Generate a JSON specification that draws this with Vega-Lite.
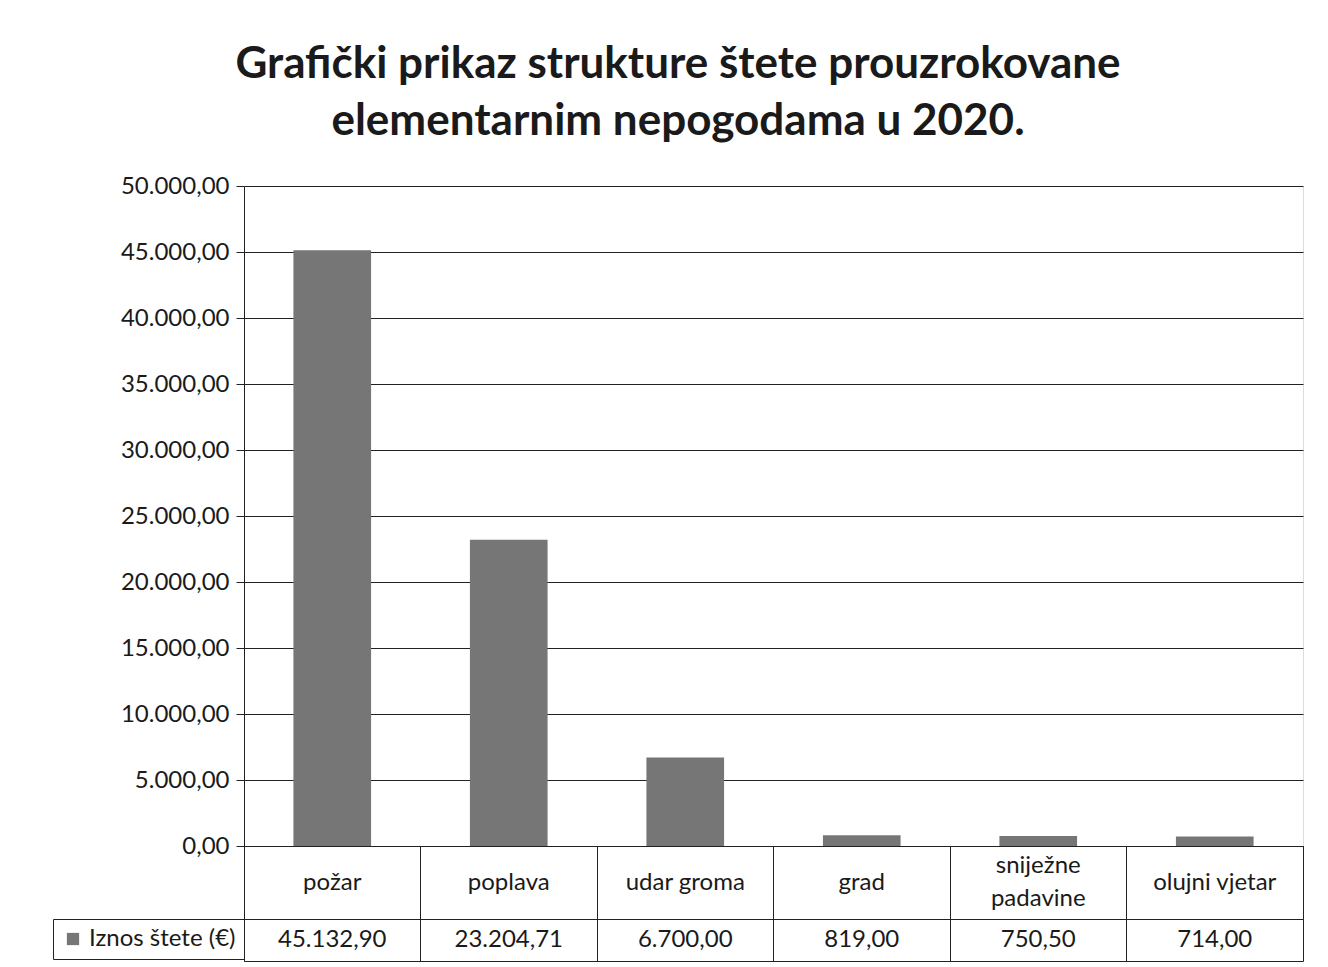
{
  "$schema": "https://vega.github.io/schema/vega-lite/v6.json",
  "background": "white",
  "padding": {"left": 52, "top": 42, "right": 5, "bottom": 5},
  "title": {
    "text": ["Grafički prikaz strukture štete prouzrokovane", "elementarnim nepogodama u 2020."],
    "font": "Lato",
    "fontSize": 44,
    "fontWeight": "bold",
    "color": "#1a1a1a",
    "lineHeight": 57,
    "anchor": "middle",
    "offset": 30
  },
  "data": {
    "values": [
      {"kategorija": "požar", "naziv": "požar", "iznos": 45132.90},
      {"kategorija": "poplava", "naziv": "poplava", "iznos": 23204.71},
      {"kategorija": "udar groma", "naziv": "udar groma", "iznos": 6700.00},
      {"kategorija": "grad", "naziv": "grad", "iznos": 819.00},
      {"kategorija": "sniježne padavine", "naziv": ["sniježne", "padavine"], "iznos": 750.50},
      {"kategorija": "olujni vjetar", "naziv": "olujni vjetar", "iznos": 714.00}
    ]
  },
  "spacing": 0,
  "bounds": "flush",
  "resolve": {"scale": {"x": "shared"}},
  "vconcat": [
    {
      "width": 1059,
      "height": 660,
      "mark": {"type": "bar", "width": {"band": 0.44}, "fill": "#767676"},
      "encoding": {
        "x": {
          "field": "kategorija",
          "type": "nominal",
          "sort": null,
          "scale": {"padding": 0},
          "axis": {"labels": false, "ticks": false, "title": null, "domain": true, "domainColor": "#222", "grid": false}
        },
        "y": {
          "field": "iznos",
          "type": "quantitative",
          "scale": {"domain": [0, 50000], "nice": false},
          "axis": {
            "values": [0, 5000, 10000, 15000, 20000, 25000, 30000, 35000, 40000, 45000, 50000],
            "format": ",.2f",
            "title": null,
            "grid": true,
            "gridColor": "#222",
            "gridOpacity": 1,
            "domainColor": "#222",
            "tickColor": "#222",
            "tickSize": 8,
            "labelPadding": 7,
            "labelFont": "Lato",
            "labelFontSize": 24,
            "labelColor": "#1a1a1a"
          }
        },
        "color": {
          "datum": "Iznos štete (€)",
          "type": "nominal",
          "scale": {"range": ["#767676"]},
          "legend": {
            "title": null,
            "orient": "none",
            "legendX": -191,
            "legendY": 733,
            "strokeColor": "#222",
            "padding": 8,
            "symbolType": "square",
            "symbolSize": 150,
            "symbolStrokeWidth": 0,
            "labelFont": "Lato",
            "labelFontSize": 24,
            "labelColor": "#1a1a1a",
            "labelLimit": 300
          }
        }
      }
    },
    {
      "width": 1059,
      "height": 73,
      "view": {"stroke": "#222"},
      "encoding": {
        "x": {
          "field": "kategorija",
          "type": "nominal",
          "sort": null,
          "axis": {"labels": false, "ticks": false, "domain": false, "title": null, "grid": true, "bandPosition": 0, "gridColor": "#222", "gridOpacity": 1}
        },
        "text": {"field": "naziv"}
      },
      "layer": [
        {
          "transform": [{"filter": "!isArray(datum.naziv)"}],
          "mark": {"type": "text", "font": "Lato", "fontSize": 24, "color": "#1a1a1a", "baseline": "middle"}
        },
        {
          "transform": [{"filter": "isArray(datum.naziv)"}],
          "mark": {"type": "text", "font": "Lato", "fontSize": 24, "color": "#1a1a1a", "baseline": "middle", "lineHeight": 33, "dy": -17}
        }
      ]
    },
    {
      "width": 1059,
      "height": 42,
      "view": {"stroke": "#222"},
      "mark": {"type": "text", "font": "Lato", "fontSize": 24, "color": "#1a1a1a", "baseline": "middle"},
      "encoding": {
        "x": {
          "field": "kategorija",
          "type": "nominal",
          "sort": null,
          "axis": {"labels": false, "ticks": false, "domain": false, "title": null, "grid": true, "bandPosition": 0, "gridColor": "#222", "gridOpacity": 1}
        },
        "text": {"field": "iznos", "type": "quantitative", "format": ",.2f"}
      }
    }
  ],
  "config": {
    "locale": {
      "number": {"decimal": ",", "thousands": ".", "grouping": [3], "currency": ["", " €"]}
    }
  }
}
